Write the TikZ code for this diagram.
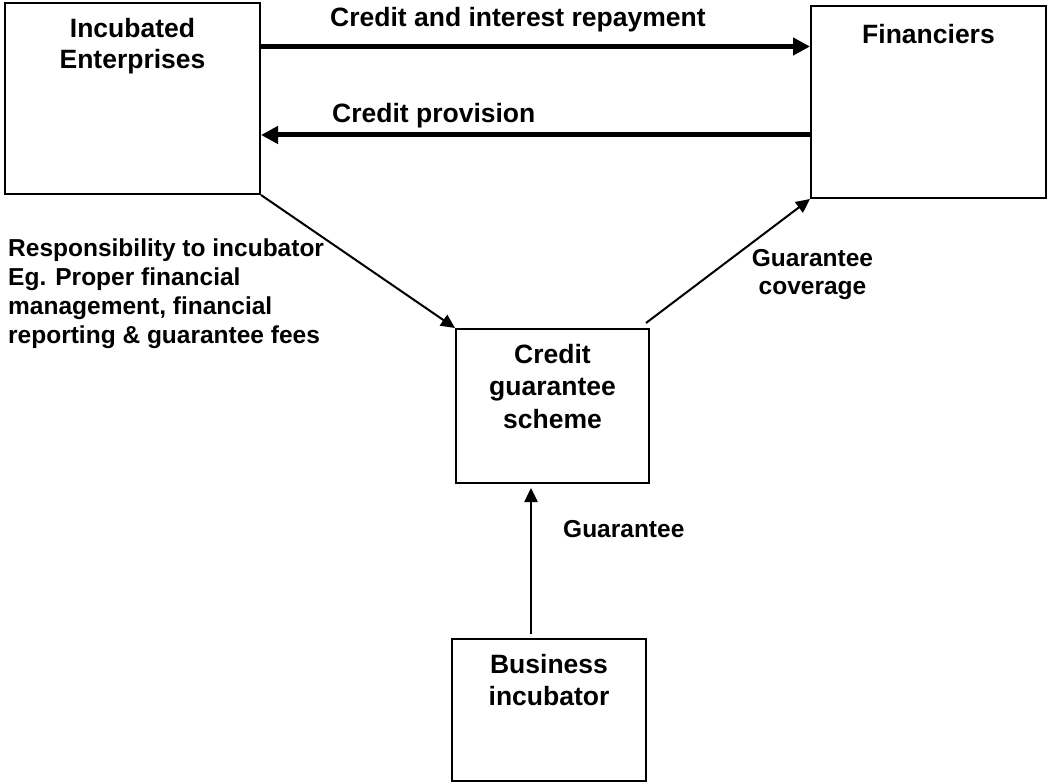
\documentclass[tikz,border=0pt]{standalone}
\usepackage{fontspec}
\setmainfont{Liberation Sans}
\usetikzlibrary{arrows.meta,calc}

\begin{document}
\begin{tikzpicture}[x=1pt,y=-1pt,
  box/.style={draw=black,line width=2pt,inner sep=0pt},
  boxtext/.style={inner sep=0pt,anchor=base,align=center,
    font=\bfseries\fontsize{26.5}{31.5}\selectfont},
  toplabel/.style={inner sep=0pt,anchor=base west,
    font=\bfseries\fontsize{26.5}{32}\selectfont},
  sidelabel/.style={inner sep=0pt,font=\bfseries\fontsize{24.5}{29}\selectfont},
  heavy/.style={line width=5pt,-{Triangle[length=17pt,width=17pt]}},
  light/.style={line width=2pt,-{Triangle[length=14pt,width=13pt]}}
]
\useasboundingbox (0,0) rectangle (1049,783);

% boxes
\node[box,minimum width=255pt,minimum height=191pt] (ent) at (132.5,98.5) {};
\node[box,minimum width=235pt,minimum height=192pt] (fin) at (928.5,102) {};
\node[box,minimum width=193pt,minimum height=154pt] (cgs) at (552.5,406) {};
\node[box,minimum width=194pt,minimum height=142pt] (inc) at (549,710) {};

% box titles (anchored at the baseline of the last line)
\node[boxtext] (entT) at (132.5,69) {Incubated\\Enterprises};
\node[boxtext] (finT) at (928.5,44) {Financiers};
\node[boxtext,font=\bfseries\fontsize{26.5}{32.5}\selectfont] (cgsT) at (552.5,428) {Credit\\guarantee\\scheme};
\node[boxtext] (incT) at (549,705) {Business\\incubator};

% credit flows between enterprises and financiers
\draw[heavy] (ent.east |- 0,46.5) -- (fin.west |- 0,46.5);
\draw[heavy] (fin.west |- 0,135) -- (ent.east |- 0,135);
\node[toplabel] (repay) at (330,27) {Credit and interest repayment};
\node[toplabel] (prov) at (332,123) {Credit provision};

% guarantee scheme links
\draw[light] (ent.south east) -- (cgs.north west);
\coordinate (cov) at ($(cgs.north east)+(-4,-5)$);
\draw[light] (cov) -- (fin.south west);
\coordinate (gbot) at (531,634);
\coordinate (gtop) at (531,488);
\draw[light,line width=2.5pt] (gbot) -- (gtop);

% side labels
\node[sidelabel,anchor=base west,align=left] (resp) at (8,344)
  {Responsibility to incubator\\Eg. Proper financial\\management, financial\\reporting \& guarantee fees};
\node[sidelabel,anchor=base,align=center,font=\bfseries\fontsize{24.5}{28}\selectfont] (gcov) at (812.5,295) {Guarantee\\coverage};
\node[sidelabel,anchor=base west] (guar) at (563,537) {Guarantee};
\end{tikzpicture}
\end{document}
